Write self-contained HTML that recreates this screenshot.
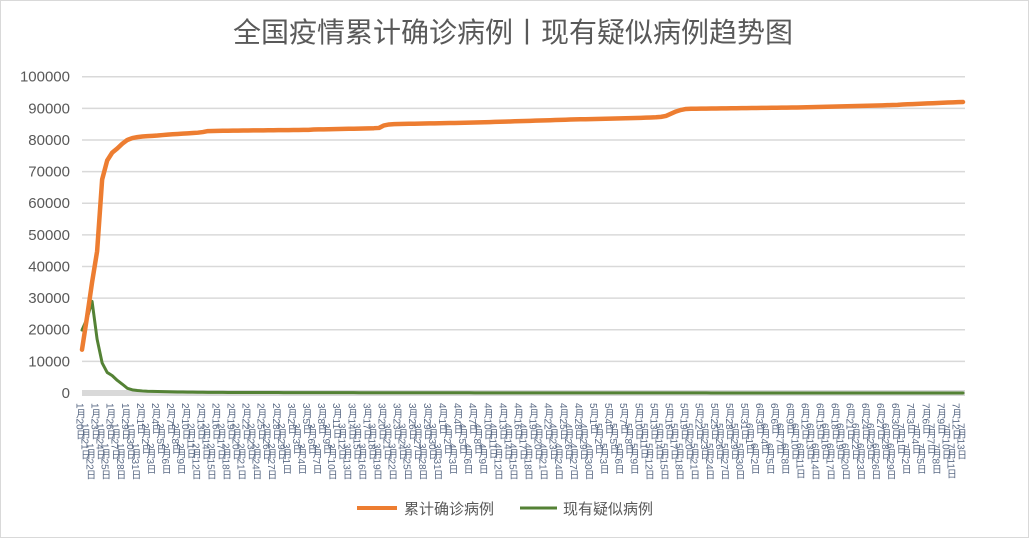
<!DOCTYPE html>
<html><head><meta charset="utf-8">
<style>
html,body{margin:0;padding:0;background:#fff;}
#wrap{position:relative;width:1029px;height:538px;overflow:hidden;}
svg{position:absolute;left:0;top:0;}
text{font-family:"Liberation Sans","Noto Sans CJK SC",sans-serif;fill:#595959;}
</style></head>
<body>
<div id="wrap">
<svg id="chart" width="1029" height="538">
<rect x="0.5" y="0.5" width="1028" height="537" fill="#fff" stroke="#d9d9d9"/>
<text x="513" y="42" text-anchor="middle" font-size="28">全国疫情累计确诊病例丨现有疑似病例趋势图</text>
<g id="grid"></g>
<g id="yaxis"></g>
<g id="xaxis"></g>
<g id="series"></g>
<g>
<g>
<line x1="357" y1="508" x2="397" y2="508" stroke="#ed7d31" stroke-width="4"/>
<text x="404" y="514" font-size="15">累计确诊病例</text></g>
<g>
<line x1="520" y1="508" x2="557" y2="508" stroke="#548235" stroke-width="3"/>
<text x="563" y="514" font-size="15">现有疑似病例</text></g>
</g>
</svg>
</div>
<script>
const yTicks=[0,10000,20000,30000,40000,50000,60000,70000,80000,90000,100000];
const confirmed=[13700,24000,35000,44800,67500,73500,76000,77300,78800,80000,80600,80900,81100,81200,81300,81400,81550,81700,81800,81900,82000,82100,82200,82300,82500,82800,
82850,82880,82900,82920,82940,82960,82980,83000,83020,83030,83040,83060,83080,83100,83110,83120,83140,83160,83180,83200,
83300,83330,83360,83400,83430,83460,83500,83530,83560,83600,83640,83680,83720,83800,
84600,84900,
85000,85040,85080,85110,85140,85170,85200,85230,85260,85290,85320,85350,85380,85410,85440,85480,85520,85560,85600,85650,85700,85750,
85800,85850,85900,85950,86000,86050,86100,86150,86200,86250,86300,86350,86400,86450,86500,86530,86560,86600,86640,86680,
86700,86740,86780,86820,86860,86900,86950,87000,87050,87100,87180,87300,
87600,88300,89000,89500,89800,
89850,89870,89890,89910,89930,89950,89970,89990,90010,90030,90050,90070,90090,90110,90130,90150,90170,90190,90210,90230,90250,90270,90300,
90340,90380,90420,90460,90500,90540,90580,90620,90660,90700,90740,90780,90820,90860,90900,90950,91000,91050,91100,91200,
91270,91340,91410,91480,91550,91620,91690,91760,91830,91900,91950,92000];
const suspected=[19900,23500,29000,17000,9500,6500,5500,4000,2800,1500,1000,800,650,550,
500,460,420,390,360,330,300,280,260,240,220,200,
190,185,180,175,170,165,160,155,150,148,145,142,140,138,135,132,130,128,125,122,
120,118,115,112,110,108,105,102,100,98,96,94,92,90,88,86,85,84,82,80,
78,76,75,74,72,70,68,66,65,64,62,60,58,56,55,54,52,50,50,48,
48,46,46,45,44,44,42,42,40,40,40,38,38,36,36,35,35,34,34,32,
32,30,30,30,30,28,28,28,26,26,26,25,25,25,24,24,22,22,22,20,
20,20,20,20,18,18,18,18,16,16,16,16,15,15,15,15,14,14,14,14,
12,12,12,12,10,10,10,10,10,10,10,10,10,10,9,9,9,9,9,9,
8,8,8,8,8,8,8,8,8,8];
const startMonth=1, startDay=20;
const categories=[];
(function(){const dim=[0,31,29,31,30,31,30,31,31,30,31,30,31];let m=startMonth,d=startDay;
for(let i=0;i<confirmed.length;i++){categories.push(m+'月'+d+'日');d++;if(d>dim[m]){d=1;m++;}}})();

const NS='http://www.w3.org/2000/svg';
const X0=82,X1=963,Y0=393,Y1=76.7,YMAX=100000;
function xs(i){return X0+(X1-X0)*i/(categories.length-1);}
function ys(v){return Y0-(Y0-Y1)*v/YMAX;}
function mk(tag,attrs,parent){const e=document.createElementNS(NS,tag);for(const k in attrs)e.setAttribute(k,attrs[k]);parent.appendChild(e);return e;}

const grid=document.getElementById('grid'),yaxis=document.getElementById('yaxis'),xaxis=document.getElementById('xaxis'),series=document.getElementById('series');
yTicks.forEach(t=>{
  const l=mk('line',{x1:X0,x2:965,y1:ys(t),y2:ys(t),stroke:'#d9d9d9','stroke-width':t===0?6:1.5},grid);
  
  
  const tx=mk('text',{x:70,y:ys(t)+5,'text-anchor':'end','font-size':15},yaxis);
  tx.textContent=String(t);
  
  
});
categories.forEach((c,i)=>{
  const tx=mk('text',{x:xs(i)-3,y:403+(i%3)*20,'font-size':10},xaxis);
  tx.setAttribute('style','writing-mode:vertical-rl;fill:#5a6a85');
  tx.textContent=c;
  
  
});
function line(vals,color,w,name){
  const d=vals.map((v,i)=>(i?'L':'M')+xs(i).toFixed(2)+' '+ys(v).toFixed(2)).join(' ');
  const p=mk('path',{d:d,fill:'none',stroke:color,'stroke-width':w,'stroke-linejoin':'round','stroke-linecap':'round'},series);
  
  
}
line(suspected,'#548235',3,'suspected-line');
line(confirmed,'#ed7d31',4.5,'confirmed-line');
</script>
</body></html>
